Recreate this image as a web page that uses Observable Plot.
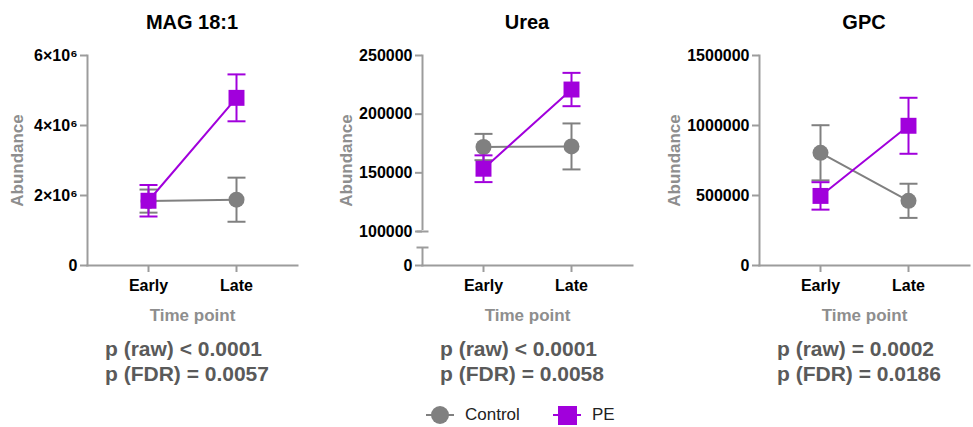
<!DOCTYPE html>
<html>
<head>
<meta charset="utf-8">
<script src="https://cdn.jsdelivr.net/npm/d3@7"></script>
<script src="https://cdn.jsdelivr.net/npm/@observablehq/plot@0.6"></script>
<style>
  html, body { margin: 0; padding: 0; background: #fff; overflow: hidden; }
  body { font-family: "Liberation Sans", Arial, sans-serif; }
  #root { position: relative; width: 973px; height: 427px; }
  .panel { position: absolute; top: 0; }
  .panel svg { overflow: visible; font-family: "Liberation Sans", Arial, sans-serif; }
  g[aria-label="y-axis label"] text, g[aria-label="x-axis label"] text { fill: #8e8e8e; font-size: 17px; }
  .title { position: absolute; top: 10px; font-size: 20px; font-weight: bold; line-height: 24px; transform: translateX(-50%); white-space: nowrap; color: #000; }
  .pv { position: absolute; top: 336px; font-size: 21px; font-weight: bold; line-height: 25px; color: #5a5a5a; white-space: nowrap; }
  .leg { position: absolute; font-size: 17px; color: #222; line-height: 20px; }
  .legline { position: absolute; height: 2px; }
  .legmark { position: absolute; }
</style>
</head>
<body>
<div id="root"></div>
<script>
// ---- data ----
const timepoints = ["Early", "Late"];
const groups = ["Control", "PE"];
const titles = ["MAG 18:1", "Urea", "GPC"];

const magControlMean = [1840000, 1880000];
const magControlSem  = [330000, 630000];
const magPeMean      = [1850000, 4790000];
const magPeSem       = [450000, 670000];

const ureaControlMean = [172000, 172500];
const ureaControlSem  = [11200, 19600];
const ureaPeMean      = [153500, 221000];
const ureaPeSem       = [11400, 14200];

const gpcControlMean = [805000, 462000];
const gpcControlSem  = [197000, 122000];
const gpcPeMean      = [497000, 998000];
const gpcPeSem       = [98000, 200000];

const magTicks  = [0, 2000000, 4000000, 6000000];
const ureaTicks = [0, 100000, 150000, 200000, 250000];
const gpcTicks  = [0, 500000, 1000000, 1500000];
const ureaBreak = [20000, 100000];

const pRaw = ["p (raw) < 0.0001", "p (raw) < 0.0001", "p (raw) = 0.0002"];
const pFdr = ["p (FDR) = 0.0057", "p (FDR) = 0.0058", "p (FDR) = 0.0186"];

// ---- styles ----
const purple = "#a100dc";
const gray = "#808080";
const axisGray = "#9c9c9c";
const capSymbol = { draw(ctx, size) { const w = Math.sqrt(size / Math.PI); ctx.moveTo(-w, 0); ctx.lineTo(w, 0); } };

const superMil = d => d === 0 ? "0" : `${d / 1e6}×10⁶`;
const plain = d => d3.format("d")(d);

const panels = [
  { axisX: 87, marginLeft: 87, control: magControlMean, controlSem: magControlSem, pe: magPeMean, peSem: magPeSem,
    y: { domain: [0, 6000000] }, ticks: magTicks, fmt: superMil, labelOffset: 77 },
  { axisX: 422, marginLeft: 100, control: ureaControlMean, controlSem: ureaControlSem, pe: ureaPeMean, peSem: ureaPeSem,
    y: { domain: [0, ureaBreak[0], ureaBreak[1], 250000], range: [265, 247, 231, 55] }, ticks: ureaTicks, fmt: plain, labelOffset: 83, broken: ureaBreak },
  { axisX: 759, marginLeft: 100, control: gpcControlMean, controlSem: gpcControlSem, pe: gpcPeMean, peSem: gpcPeSem,
    y: { domain: [0, 1500000] }, ticks: gpcTicks, fmt: plain, labelOffset: 92 }
];

const root = document.getElementById("root");

panels.forEach((p, k) => {
  const rows = (mean, sem, group) => timepoints.map((t, i) => ({ group, time: t, mean: mean[i], lo: mean[i] - sem[i], hi: mean[i] + sem[i] }));
  const ctrl = rows(p.control, p.controlSem, groups[0]);
  const pe = rows(p.pe, p.peSem, groups[1]);

  const series = (data, color, symbol, r) => [
    Plot.ruleX(data, { x: "time", y1: "lo", y2: "hi", stroke: color, strokeWidth: 2 }),
    Plot.dot(data, { x: "time", y: "hi", symbol: capSymbol, r: 9, stroke: color, strokeWidth: 2, fill: "none" }),
    Plot.dot(data, { x: "time", y: "lo", symbol: capSymbol, r: 9, stroke: color, strokeWidth: 2, fill: "none" }),
    Plot.line(data, { x: "time", y: "mean", stroke: color, strokeWidth: 2 }),
    Plot.dot(data, { x: "time", y: "mean", symbol, r, fill: color, stroke: "none" })
  ];

  const marks = [
    Plot.frame({ anchor: "left", stroke: axisGray, strokeWidth: 2 }),
    Plot.frame({ anchor: "bottom", stroke: axisGray, strokeWidth: 2 })
  ];
  if (p.broken) {
    marks.push(Plot.rect([0], { y1: () => p.broken[0], y2: () => p.broken[1], fill: "white", insetLeft: -6, insetTop: -1, insetBottom: -1 }));
  }
  marks.push(
    Plot.axisY({ ticks: p.ticks, tickFormat: p.fmt, tickSize: 7, tickPadding: 3, stroke: axisGray, strokeWidth: 2,
      fill: "#000", fontWeight: "bold", fontSize: 16, label: "Abundance", labelAnchor: "center", labelArrow: "none", labelOffset: p.labelOffset }),
    Plot.axisX({ tickSize: 7, tickPadding: 7, stroke: axisGray, strokeWidth: 2, fill: "#000", fontWeight: "bold", fontSize: 16,
      label: "Time point", labelAnchor: "center", labelArrow: "none", labelOffset: 55 })
  );
  if (p.broken) {
    marks.push(Plot.dot(p.broken, { y: d => d, frameAnchor: "left", symbol: capSymbol, r: 6, stroke: axisGray, strokeWidth: 2, fill: "none" }));
  }
  marks.push(...series(ctrl, gray, "circle", 8), ...series(pe, purple, "square", 9));

  const chart = Plot.plot({
    width: p.marginLeft + 213,
    height: 330,
    marginLeft: p.marginLeft,
    marginRight: 3,
    marginTop: 55,
    marginBottom: 65,
    x: { type: "point", domain: timepoints, padding: 0.68 },
    y: { type: "linear", ...p.y },
    style: { fontFamily: "Liberation Sans, Arial, sans-serif", background: "white", overflow: "visible" },
    marks
  });

  const wrap = document.createElement("div");
  wrap.className = "panel";
  wrap.style.left = (p.axisX - p.marginLeft) + "px";
  wrap.appendChild(chart);
  root.appendChild(wrap);

  const t = document.createElement("div");
  t.className = "title";
  t.style.left = (p.axisX + 105) + "px";
  t.textContent = titles[k];
  root.appendChild(t);

  const pv = document.createElement("div");
  pv.className = "pv";
  pv.style.left = (p.axisX + 18) + "px";
  const l1 = document.createElement("div"); l1.textContent = pRaw[k];
  const l2 = document.createElement("div"); l2.textContent = pFdr[k];
  pv.appendChild(l1); pv.appendChild(l2);
  root.appendChild(pv);
});

// ---- legend ----
const legendItems = [
  { name: groups[0], color: gray, shape: "circle", cx: 440, textX: 465 },
  { name: groups[1], color: purple, shape: "square", cx: 567, textX: 592 }
];
legendItems.forEach(it => {
  const ln = document.createElement("div");
  ln.className = "legline";
  ln.style.left = (it.cx - 14) + "px"; ln.style.width = "28px"; ln.style.top = "414px"; ln.style.background = it.color;
  root.appendChild(ln);
  const mk = document.createElement("div");
  mk.className = "legmark";
  const s = it.shape === "circle" ? 18 : 19;
  mk.style.width = s + "px"; mk.style.height = s + "px";
  mk.style.left = (it.cx - s / 2) + "px"; mk.style.top = (415 - s / 2) + "px";
  mk.style.background = it.color;
  if (it.shape === "circle") mk.style.borderRadius = "50%";
  root.appendChild(mk);
  const tx = document.createElement("div");
  tx.className = "leg";
  tx.style.left = it.textX + "px"; tx.style.top = "405px";
  tx.textContent = it.name;
  root.appendChild(tx);
});
</script>
</body>
</html>
